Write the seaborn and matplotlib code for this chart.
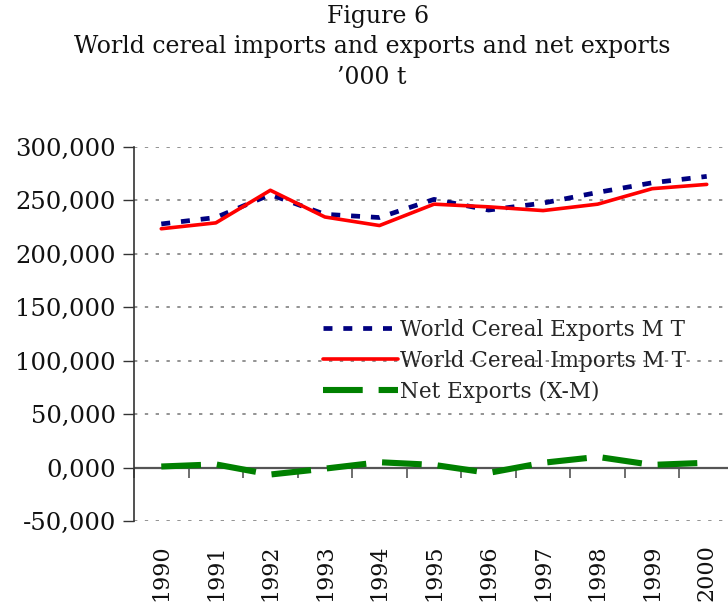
import matplotlib
matplotlib.use("Agg")
import matplotlib.pyplot as plt
import seaborn as sns
import pandas as pd
import numpy as np
from matplotlib.ticker import FuncFormatter

years = ["1990", "1991", "1992", "1993", "1994", "1995", "1996", "1997", "1998", "1999", "2000"]
exports = [228000, 234000, 255500, 237000, 234000, 251000, 241000, 247500, 257500, 266500, 272500]
imports = [223500, 229000, 259500, 234500, 226500, 246500, 244000, 240500, 246500, 261000, 265000]
net_exports = [1000, 3000, -6500, -1000, 5000, 2500, -5000, 4500, 10000, 2500, 4500]

labels = ["World Cereal Exports M T", "World Cereal Imports M T", "Net Exports (X-M)"]

sns.set_theme(style="white")
plt.rcParams["font.family"] = ["DejaVu Serif"]

fig = plt.figure(figsize=(7.28, 6.05), dpi=100)
ax = fig.add_axes([134 / 728, 1 - 521 / 605, 600 / 728, (521 - 147) / 605])

pos = np.arange(len(years))
df = pd.DataFrame({"pos": pos, "exp": exports, "imp": imports, "net": net_exports})

sns.lineplot(data=df, x="pos", y="exp", ax=ax, color="#000080", lw=3.4,
             label=labels[0])
sns.lineplot(data=df, x="pos", y="imp", ax=ax, color="#ff0000", lw=2.6,
             label=labels[1])
sns.lineplot(data=df, x="pos", y="net", ax=ax, color="#008000", lw=4.4,
             label=labels[2])
lines = ax.get_lines()
lines[0].set_dashes([1.9, 2.3])
lines[2].set_dashes([6.5, 2.6])

ax.set_xlim(-0.5, len(years) - 0.5)
ax.set_ylim(-50000, 300000)
ax.set_yticks(np.arange(-50000, 300001, 50000))
ax.yaxis.set_major_formatter(FuncFormatter(
    lambda v, p: ("-" if v < 0 else "") + ("0,000" if v == 0 else f"{abs(int(v)):,}")))
ax.tick_params(axis="y", labelsize=17.5, direction="out", length=8, width=1,
               color="#333333", left=True, pad=5, labelcolor="#111111")
ax.set_xticks(pos)
ax.set_xticklabels(years, rotation=90, fontsize=16, color="#111111")
ax.tick_params(axis="x", length=0, pad=17)
ax.set_xlabel("")
ax.set_ylabel("")

ax.grid(axis="y", color="#808080", linestyle=(0, (2, 4.5)), lw=1.2)
ax.grid(axis="x", visible=False)
for s in ["top", "right", "bottom"]:
    ax.spines[s].set_visible(False)
ax.spines["left"].set_color("#333333")
ax.spines["left"].set_linewidth(1.2)

ax.axhline(0, color="#555555", lw=1.6, zorder=1)
sec = ax.secondary_xaxis(50000 / 350000)
sec.set_xticks(np.arange(-0.5, len(years) - 0.5 + 0.01, 1.0))
sec.tick_params(direction="out", length=7, width=1.2, color="#555555", labelbottom=False,
                labeltop=False)
sec.spines["bottom"].set_visible(False)
sec.spines["top"].set_visible(False)

leg = ax.legend(loc="upper left", bbox_to_anchor=(180 / 600, 1 - (310 - 147) / 374),
                frameon=False, fontsize=15.5, handlelength=3.5, handletextpad=0.1,
                labelspacing=0.42, borderaxespad=0)

fig.text(378 / 728, 1 - 17 / 605, "Figure 6", ha="center", va="center", fontsize=17,
         color="#111111")
fig.text(372 / 728, 1 - 47 / 605, "World cereal imports and exports and net exports",
         ha="center", va="center", fontsize=17, color="#111111")
fig.text(372 / 728, 1 - 77 / 605, "\u2019000 t", ha="center", va="center", fontsize=17,
         color="#111111")

fig.savefig("out.png", dpi=100)
